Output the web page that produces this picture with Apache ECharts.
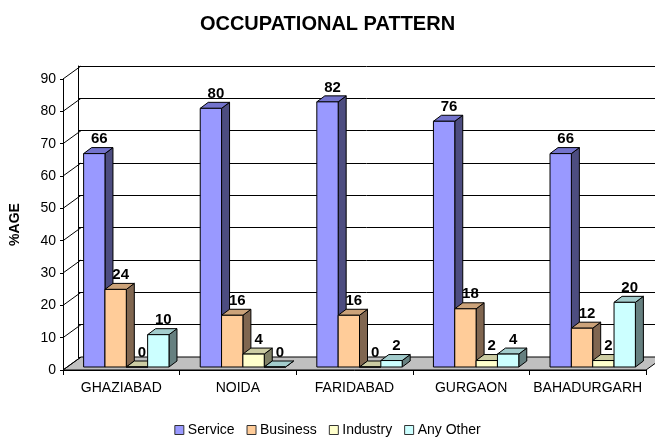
<!DOCTYPE html>
<html>
<head>
<meta charset="utf-8">
<script src="https://cdn.jsdelivr.net/npm/echarts@6/dist/echarts.min.js"></script>
<style>html,body{margin:0;padding:0;background:#fff}#c{width:655px;height:437px}</style>
</head>
<body>
<div id="c"></div>
<script>
const categories = ['GHAZIABAD', 'NOIDA', 'FARIDABAD', 'GURGAON', 'BAHADURGARH'];
const service = [66, 80, 82, 76, 66];
const business = [24, 16, 16, 18, 12];
const industry = [0, 4, 0, 2, 2];
const anyOther = [10, 0, 2, 4, 20];
const yTicks = [0, 10, 20, 30, 40, 50, 60, 70, 80, 90];

const FONT = '"Liberation Sans", Arial, sans-serif';
const DX = 18, DY = -13;      // wall depth
const BDX = 8, BDY = -6;      // bar depth
const seriesDefs = [
  { name: 'Service', data: service, front: '#9999FF', side: '#4D4D80', top: '#7373CC' },
  { name: 'Business', data: business, front: '#FFCC99', side: '#806650', top: '#CCA37A' },
  { name: 'Industry', data: industry, front: '#FFFFCC', side: '#808066', top: '#CCCCA3' },
  { name: 'Any Other', data: anyOther, front: '#CCFFFF', side: '#668080', top: '#A3CCCC' }
];

function barGeom(api, k) {
  const ci = api.value(0), v = api.value(1);
  const base = api.coord([ci, 0]);
  const topP = api.coord([ci, v]);
  const cw = api.size([1, 0])[0];
  const w = cw * 0.183;
  const cx = base[0] + 5;
  const x0 = cx - 2 * w + k * w, x1 = x0 + w;
  const yb = base[1] - 3, yt = topP[1] - 3;
  return { x0, x1, yb, yt, v };
}

function makeBarSeries(def, k) {
  return {
    name: def.name, type: 'custom', xAxisIndex: 0, yAxisIndex: 0, z: 3,
    itemStyle: { color: def.front },
    data: def.data.map((v, i) => [i, v]),
    renderItem: function (params, api) {
      const g = barGeom(api, k);
      const st = { stroke: '#000', lineWidth: 1 };
      return {
        type: 'group', children: [
          { type: 'polygon', shape: { points: [[g.x1, g.yb], [g.x1 + BDX, g.yb + BDY], [g.x1 + BDX, g.yt + BDY], [g.x1, g.yt]] }, style: Object.assign({ fill: def.side }, st) },
          { type: 'polygon', shape: { points: [[g.x0, g.yt], [g.x1, g.yt], [g.x1 + BDX, g.yt + BDY], [g.x0 + BDX, g.yt + BDY]] }, style: Object.assign({ fill: def.top }, st) },
          { type: 'rect', shape: { x: g.x0, y: g.yt, width: g.x1 - g.x0, height: g.yb - g.yt }, style: Object.assign({ fill: def.front }, st) }
        ]
      };
    }
  };
}

function makeLabelSeries(def, k) {
  return {
    name: def.name + ' label', type: 'custom', xAxisIndex: 0, yAxisIndex: 0, z: 5,
    data: def.data.map((v, i) => [i, v]),
    renderItem: function (params, api) {
      const g = barGeom(api, k);
      return {
        type: 'text',
        style: { text: String(g.v), x: (g.x0 + g.x1) / 2 + 5, y: g.yt + BDY - 1, align: 'center', verticalAlign: 'bottom', font: 'bold 15px ' + FONT, fill: '#000' }
      };
    }
  };
}

const floorSeries = {
  name: 'floor', type: 'custom', xAxisIndex: 0, yAxisIndex: 0, z: 1, silent: true,
  data: [[0, 0]],
  renderItem: function (params, api) {
    const cs = params.coordSys;
    const yb = cs.y + cs.height;
    return {
      type: 'polygon',
      shape: { points: [[cs.x, yb], [cs.x + cs.width, yb], [cs.x + cs.width + DX, yb + DY], [cs.x + DX, yb + DY]] },
      style: { fill: '#C0C0C0', stroke: '#000', lineWidth: 1 }
    };
  }
};

const sideSeries = {
  name: 'side', type: 'custom', xAxisIndex: 0, yAxisIndex: 0, z: 1, silent: true,
  data: yTicks.map(v => [0, v]),
  renderItem: function (params, api) {
    const cs = params.coordSys;
    const p = api.coord([0, api.value(1)]);
    return {
      type: 'line',
      shape: { x1: cs.x, y1: p[1], x2: cs.x + DX, y2: p[1] + DY },
      style: { stroke: '#000', lineWidth: 1 }
    };
  }
};

const chart = echarts.init(document.getElementById('c'), null, { renderer: 'canvas' });
chart.setOption({
  animation: false,
  backgroundColor: '#fff',
  title: { text: 'OCCUPATIONAL PATTERN', left: 'center', top: 9, textStyle: { fontFamily: FONT, fontWeight: 'bold', fontSize: 20, color: '#000' } },
  legend: {
    top: 423, left: 'center', padding: [0, 5, 0, 5], icon: 'rect', itemWidth: 9, itemHeight: 9, itemGap: 12,
    data: seriesDefs.map(d => d.name),
    itemStyle: { borderColor: '#333', borderWidth: 1 },
    textStyle: { fontFamily: FONT, fontSize: 14, color: '#000', padding: [0, 0, 0, -1] }
  },
  grid: [
    { left: 60, top: 79, width: 586, height: 291 },
    { left: 78, top: 66, width: 586, height: 291 }
  ],
  xAxis: [
    { type: 'category', gridIndex: 0, data: categories, z: 4,
      axisLine: { lineStyle: { color: '#000', width: 1 } },
      axisTick: { show: true, length: 5, interval: 0, lineStyle: { color: '#000' } },
      axisLabel: { fontFamily: FONT, fontSize: 14, color: '#000', margin: 11, interval: 0 },
      splitLine: { show: false } },
    { type: 'category', gridIndex: 1, data: categories, show: false }
  ],
  yAxis: [
    { type: 'value', gridIndex: 0, min: 0, max: 90, interval: 10, z: 4,
      name: '%AGE', nameLocation: 'middle', nameGap: 41, nameRotate: 90,
      nameTextStyle: { fontFamily: FONT, fontWeight: 'bold', fontSize: 14, color: '#000' },
      axisLine: { show: true, lineStyle: { color: '#000', width: 1 } },
      axisTick: { show: true, length: 3, lineStyle: { color: '#000' } },
      axisLabel: { fontFamily: FONT, fontSize: 14, color: '#000', margin: 7 },
      splitLine: { show: false } },
    { type: 'value', gridIndex: 1, min: 0, max: 90, interval: 10,
      axisLine: { show: true, lineStyle: { color: '#000', width: 1 } },
      axisTick: { show: false }, axisLabel: { show: false },
      splitLine: { show: true, lineStyle: { color: '#000', width: 1 } } }
  ],
  series: [floorSeries, sideSeries]
    .concat(seriesDefs.map(makeBarSeries))
    .concat(seriesDefs.map(makeLabelSeries))
});
</script>
</body>
</html>
